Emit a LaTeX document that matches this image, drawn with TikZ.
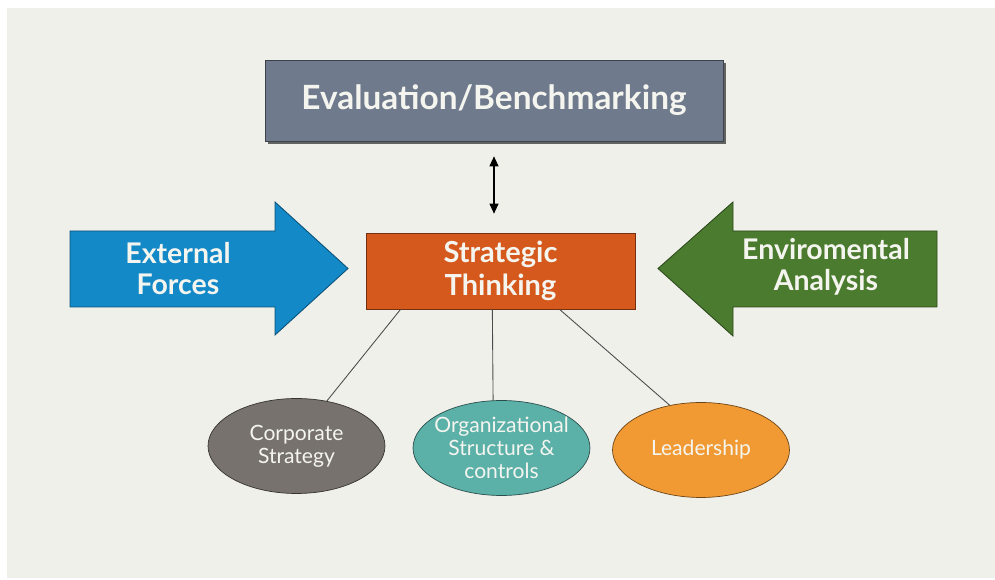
\documentclass[tikz,border=0pt]{standalone}
\usepackage{fontspec}
\setmainfont{Lato}
\usetikzlibrary{shapes.geometric,arrows.meta,shadows}

\definecolor{canvas}{HTML}{F0F0EB}
\definecolor{inkwhite}{HTML}{F5F5F0}
\definecolor{evalgray}{HTML}{6F7A8C}
\definecolor{stratorange}{HTML}{D5581C}
\definecolor{forceblue}{HTML}{1389C8}
\definecolor{envgreen}{HTML}{4B7B2E}
\definecolor{corpgray}{HTML}{77726E}
\definecolor{orgteal}{HTML}{5BB0A8}
\definecolor{leadorange}{HTML}{F19A33}

\tikzset{
  box/.style={draw=#1!55!black, fill=#1, text=inkwhite, align=center, inner sep=0pt},
  bigarrow/.style={draw=#1!60!black, fill=#1, line width=0.5pt},
  arrowtext/.style={text=inkwhite, align=center, font=\bfseries\fontsize{16.2}{17.5}\selectfont},
  bubble/.style={ellipse, draw=#1!45!black, fill=#1, text=inkwhite, align=center,
    minimum width=3.54cm, minimum height=1.9cm, inner sep=-0.2cm,
    font=\fontsize{12}{13.2}\selectfont},
  link/.style={draw=black!70, line width=0.5pt},
  dblarrow/.style={{Triangle[width=0.18cm,length=0.2cm]}-{Triangle[width=0.18cm,length=0.2cm]}, line width=0.6pt}
}

\begin{document}
\begin{tikzpicture}[x=0.02cm,y=-0.02cm]
\useasboundingbox (0,0) rectangle (995,580);
\fill[canvas] (7,8) rectangle (995,578);

% boxes
\node[box=evalgray, minimum width=9.16cm, minimum height=1.62cm,
  drop shadow={shadow xshift=0.06cm, shadow yshift=-0.06cm, opacity=0.8, fill=black!75},
  font=\bfseries\fontsize{19}{21}\selectfont] (eval) at (494,100.5) {Evaluation/Benchmarking};
\node[box=stratorange, minimum width=5.38cm, minimum height=1.52cm,
  font=\bfseries\fontsize{16.5}{18.5}\selectfont] (strat) at (500.5,271) {Strategic\\Thinking};

% side arrows
\draw[bigarrow=forceblue] (70,231) -- (275,231) -- (275,202) -- (348,268.5) -- (275,335) -- (275,307) -- (70,307) -- cycle;
\node[arrowtext] (ext) at (178,268.5) {External\\Forces};
\draw[bigarrow=envgreen] (937,231) -- (733,231) -- (733,202) -- (658,268.5) -- (733,336) -- (733,307) -- (937,307) -- cycle;
\node[arrowtext] (env) at (826,267) {Enviromental\\Analysis};

% ellipses
\node[bubble=corpgray] (corp) at (296.5,446) {Corporate\\Strategy};
\node[bubble=orgteal] (org) at (501.5,448) {Organizational\\Structure \&\\controls};
\node[bubble=leadorange] (lead) at (701,450) {Leadership};

% connectors
\draw[dblarrow, shorten <=0.3cm, shorten >=0.38cm] (eval.south) -- (eval.south |- strat.north);
\draw[link] (strat.201) -- (corp.56.5);
\draw[link] (strat.258.8) -- (org.100);
\draw[link] (strat.327.4) -- (lead.125.7);
\end{tikzpicture}
\end{document}
